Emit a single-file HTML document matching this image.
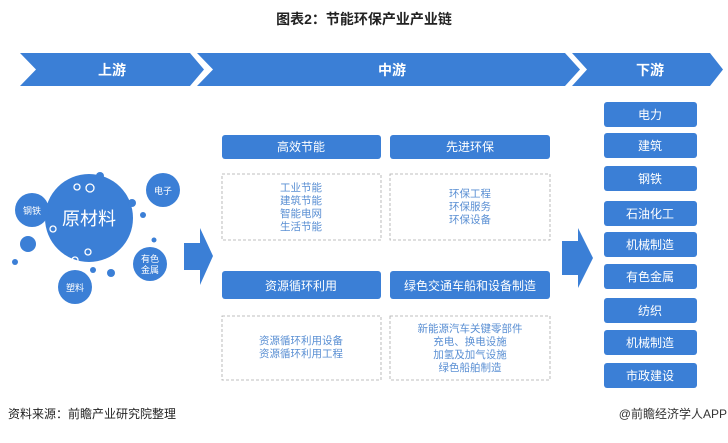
<!DOCTYPE html>
<html><head><meta charset="utf-8"><style>
body{margin:0;background:#fff;}
svg text{font-family:"Liberation Sans","Noto Sans CJK SC",sans-serif;}
</style></head><body>
<svg width="728" height="438" viewBox="0 0 728 438" xmlns="http://www.w3.org/2000/svg">
<rect width="728" height="438" fill="#fff"/>
<text x="364" y="24" text-anchor="middle" font-size="14" font-weight="bold" fill="#222">图表2：节能环保产业产业链</text>
<g fill="#3b7fd6">
<polygon points="20,53 190,53 204,69.5 190,86 20,86 36,69.5"/>
<polygon points="197,53 565,53 580,69.5 565,86 197,86 213,69.5"/>
<polygon points="572,53 710,53 723,69.5 710,86 572,86 587,69.5"/>
</g>
<g fill="#fff" font-size="14" text-anchor="middle" font-weight="bold">
<text x="112" y="75">上游</text><text x="392" y="75">中游</text><text x="650" y="75">下游</text>
</g>
<!-- circles -->
<g fill="#3b7fd6">
<circle cx="89" cy="218" r="44"/>
<circle cx="32" cy="210" r="17"/>
<circle cx="163" cy="190" r="17"/>
<circle cx="150" cy="264" r="17"/>
<circle cx="75" cy="287" r="17"/>
<circle cx="28" cy="244" r="8"/>
<circle cx="15" cy="262" r="3"/>
<circle cx="100" cy="176" r="4"/>
<circle cx="132" cy="203" r="4"/>
<circle cx="143" cy="215" r="3"/>
<circle cx="154" cy="240" r="2.5"/>
<circle cx="111" cy="273" r="4"/>
<circle cx="93" cy="270" r="3"/>
</g>
<g fill="none" stroke="#fff" stroke-width="1.3">
<circle cx="77" cy="187" r="3"/><circle cx="90" cy="188" r="4"/>
<circle cx="53" cy="229" r="3"/><circle cx="88" cy="252" r="3"/><circle cx="75" cy="260" r="3"/>
</g>
<g fill="#fff" text-anchor="middle">
<text x="89" y="225" font-size="18">原材料</text>
<text x="32" y="214" font-size="9">钢铁</text>
<text x="163" y="194" font-size="9">电子</text>
<text x="150" y="262" font-size="9">有色</text>
<text x="150" y="273" font-size="9">金属</text>
<text x="75" y="291" font-size="9">塑料</text>
</g>
<!-- arrows -->
<g fill="#3b7fd6">
<polygon points="184,243 200,243 200,228 213,256 200,285 200,270 184,270"/>
<polygon points="562,241 578,241 578,228 593,258 578,288 578,275 562,275"/>
</g>
<!-- middle headers -->
<g fill="#3b7fd6">
<rect x="222" y="135" width="159" height="24" rx="3"/>
<rect x="390" y="135" width="160" height="24" rx="3"/>
<rect x="222" y="271" width="159" height="28" rx="3"/>
<rect x="390" y="271" width="160" height="28" rx="3"/>
</g>
<g fill="#fff" font-size="12" text-anchor="middle">
<text x="301" y="151">高效节能</text>
<text x="470" y="151">先进环保</text>
<text x="301" y="290">资源循环利用</text>
<text x="470" y="290">绿色交通车船和设备制造</text>
</g>
<g fill="none" stroke="#aaa" stroke-width="0.8" stroke-dasharray="3,2">
<rect x="222" y="174" width="159" height="66"/>
<rect x="390" y="174" width="160" height="66"/>
<rect x="222" y="316" width="159" height="64"/>
<rect x="390" y="316" width="160" height="64"/>
</g>
<g fill="#5a8fd3" font-size="10.5" text-anchor="middle">
<text x="301" y="191">工业节能</text><text x="301" y="204">建筑节能</text><text x="301" y="217">智能电网</text><text x="301" y="230">生活节能</text>
<text x="470" y="197">环保工程</text><text x="470" y="210">环保服务</text><text x="470" y="223">环保设备</text>
<text x="301" y="344">资源循环利用设备</text><text x="301" y="357">资源循环利用工程</text>
<text x="470" y="332">新能源汽车关键零部件</text><text x="470" y="345">充电、换电设施</text><text x="470" y="358">加氢及加气设施</text><text x="470" y="371">绿色船舶制造</text>
</g>
<!-- right boxes -->
<g fill="#3b7fd6">
<rect x="604" y="102" width="93" height="25" rx="3"/>
<rect x="604" y="133" width="93" height="25" rx="3"/>
<rect x="604" y="166" width="93" height="25" rx="3"/>
<rect x="604" y="201" width="93" height="25" rx="3"/>
<rect x="604" y="232" width="93" height="25" rx="3"/>
<rect x="604" y="264" width="93" height="25" rx="3"/>
<rect x="604" y="298" width="93" height="25" rx="3"/>
<rect x="604" y="330" width="93" height="25" rx="3"/>
<rect x="604" y="363" width="93" height="25" rx="3"/>
</g>
<g fill="#fff" font-size="12" text-anchor="middle">
<text x="650" y="119">电力</text><text x="650" y="150">建筑</text><text x="650" y="183">钢铁</text>
<text x="650" y="218">石油化工</text><text x="650" y="249">机械制造</text><text x="650" y="281">有色金属</text>
<text x="650" y="315">纺织</text><text x="650" y="347">机械制造</text><text x="650" y="380">市政建设</text>
</g>
<text x="8" y="418" font-size="12" fill="#222">资料来源：前瞻产业研究院整理</text>
<text x="727" y="418" font-size="12" fill="#333" text-anchor="end">@前瞻经济学人APP</text>
</svg>
</body></html>
